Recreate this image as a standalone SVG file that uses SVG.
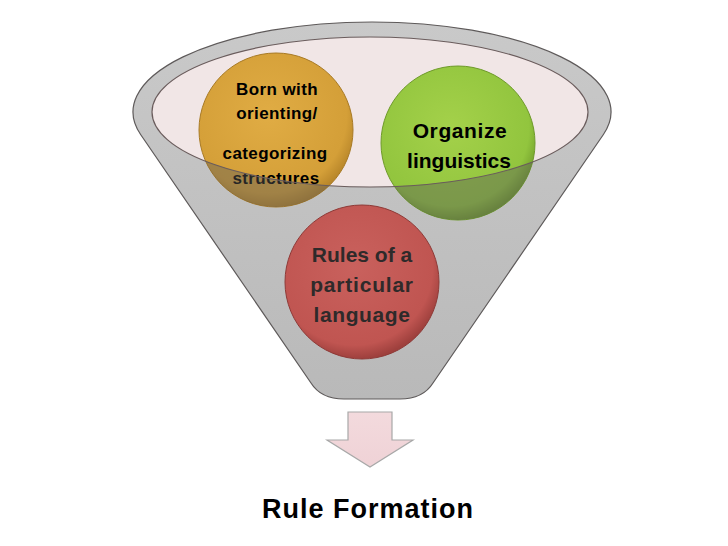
<svg xmlns="http://www.w3.org/2000/svg" width="728" height="546" viewBox="0 0 728 546">
<style>
.lbl{font-family:"Liberation Sans",Arial,sans-serif;font-weight:bold;text-anchor:middle;fill:#000}
.red{fill:#2e2a2a}
</style>
<defs>
<linearGradient id="gFunnel" x1="0" y1="0" x2="0" y2="1">
<stop offset="0" stop-color="#c9c9c9"/><stop offset="1" stop-color="#b9b9b9"/>
</linearGradient>
<radialGradient id="gOr" cx="0.45" cy="0.4" r="0.6">
<stop offset="0" stop-color="#e0ac44"/><stop offset="0.85" stop-color="#d49f38"/><stop offset="1" stop-color="#b8862a"/>
</radialGradient>
<radialGradient id="gGr" cx="0.45" cy="0.4" r="0.6">
<stop offset="0" stop-color="#a4d14a"/><stop offset="0.85" stop-color="#92c53e"/><stop offset="1" stop-color="#73a02c"/>
</radialGradient>
<radialGradient id="gRd" cx="0.45" cy="0.4" r="0.6">
<stop offset="0" stop-color="#c9615d"/><stop offset="0.85" stop-color="#c05551"/><stop offset="1" stop-color="#9e403d"/>
</radialGradient>
<linearGradient id="gArrow" x1="0" y1="0" x2="0" y2="1">
<stop offset="0" stop-color="#f3dadd"/><stop offset="1" stop-color="#efd2d6"/>
</linearGradient>
<clipPath id="outside">
<path clip-rule="evenodd" d="M0,0 H728 V546 H0 Z M152,112 A218,75 0 1,0 588,112 A218,75 0 1,0 152,112 Z"/>
</clipPath>
</defs>
<g id="funnel">
<path d="M140.6,134.5 A239,90 0 1,1 603.4,134.5 L433,383 Q423,399 400,399 L344,399 Q321,399 311,383 Z" fill="url(#gFunnel)" stroke="#5e5a5a" stroke-width="1.2"/>
<ellipse cx="370" cy="112" rx="218" ry="75" fill="#f1e6e6"/>
</g>
<g id="node-born">
<circle cx="276" cy="130" r="77" fill="url(#gOr)" stroke="#a87a25" stroke-width="1"/>
<text class="lbl" x="277" y="95" font-size="17" letter-spacing="0.4">Born with</text>
<text class="lbl" x="277" y="119" font-size="17" letter-spacing="0.4">orienting/</text>
<text class="lbl" x="275" y="159" font-size="17" letter-spacing="0.4">categorizing</text>
<text class="lbl" x="276" y="184" font-size="17" letter-spacing="0.4">structures</text>
</g>
<g id="node-organize">
<circle cx="458" cy="143" r="77" fill="url(#gGr)" stroke="#6e9a2a" stroke-width="1"/>
<text class="lbl" x="460" y="138" font-size="21" letter-spacing="0.6">Organize</text>
<text class="lbl" x="459" y="168" font-size="21">linguistics</text>
</g>
<g id="front-wall">
<g clip-path="url(#outside)">
<circle cx="276" cy="130" r="77" fill="#5a5a5a" fill-opacity="0.42"/>
<circle cx="458" cy="143" r="77" fill="#5a5a5a" fill-opacity="0.42"/>
</g>
<ellipse cx="370" cy="112" rx="218" ry="75" fill="none" stroke="#6a5c5c" stroke-width="1.2"/>
</g>
<g id="node-rules">
<circle cx="362" cy="282" r="77" fill="url(#gRd)" stroke="#8e3a37" stroke-width="1"/>
<text class="lbl red" x="362" y="262" font-size="21">Rules of a</text>
<text class="lbl red" x="362" y="292" font-size="21" letter-spacing="0.8">particular</text>
<text class="lbl red" x="362" y="322" font-size="21" letter-spacing="0.6">language</text>
</g>
<g id="connectors">
<path d="M348,412 H392 V440 H413 L370,467 L327,440 H348 Z" fill="url(#gArrow)" stroke="#a8a8a8" stroke-width="1.2"/>
</g>
<g id="node-rule-formation">
<text class="lbl" x="368" y="518" font-size="27" letter-spacing="1">Rule Formation</text>
</g>
</svg>
